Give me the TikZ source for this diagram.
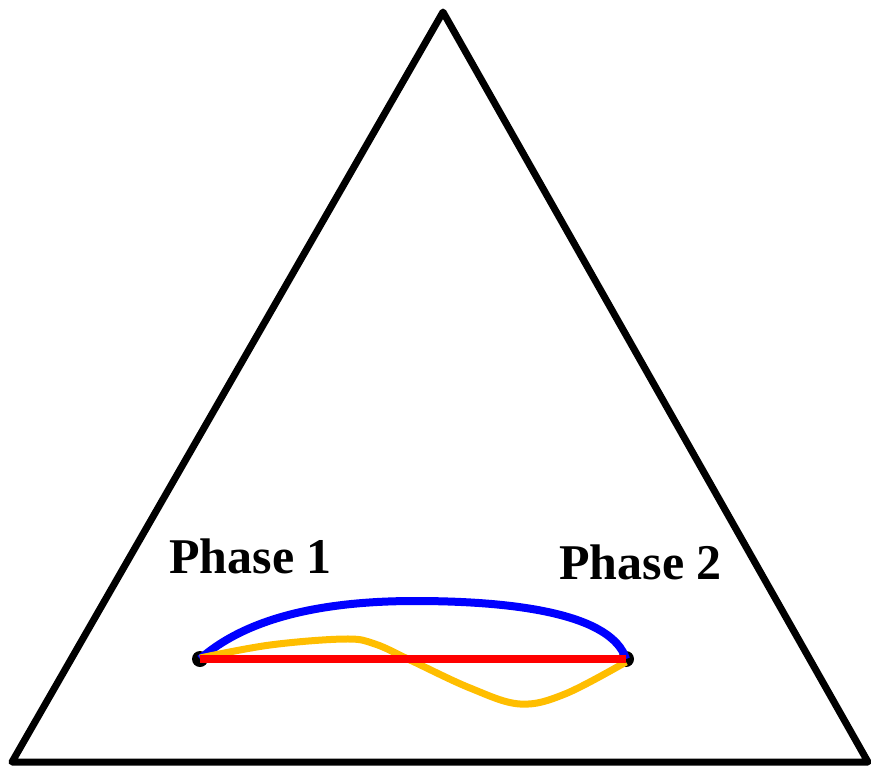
\documentclass[tikz,border=0pt]{standalone}
\usepackage{fontspec}
\setmainfont{Liberation Serif}
\begin{document}
\begin{tikzpicture}[x=1pt,y=-1pt,
  tri/.style={line width=7pt,line join=round,line cap=round},
  lbl/.style={font=\fontsize{50}{52}\selectfont\bfseries,inner sep=0pt,anchor=base west},
  blueline/.style={blue,line width=8pt},
  orangeline/.style={color={rgb,255:red,255;green,190;blue,0},line width=7pt},
  redline/.style={red,line width=8pt},
  dot/.style={circle,fill=black,inner sep=0pt,minimum size=16pt}]
\useasboundingbox (0,0) rectangle (871,766);
\coordinate (A) at (443,12);
\coordinate (B) at (12,762);
\coordinate (C) at (868,762);
\draw[tri] (A) -- (B) -- (C) -- cycle;
\node[dot] (P) at (200,659) {};
\node[dot] (Q) at (626,659) {};
\node[lbl] (L1) at (169,573) {Phase 1};
\node[lbl] (L2) at (559,579) {Phase 2};
\draw[blueline] (P.center) .. controls (250,615) and (330,601) .. (415,601)
  .. controls (520,601) and (612,615) .. (Q.center);
\draw[orangeline] plot[smooth,tension=0.6] coordinates {(200,658) (270,645) (345,639) (375,644) (410,660) (470,688) (520,704) (565,694) (626,662)};
\draw[redline] (P.center) -- (Q.center);
\end{tikzpicture}
\end{document}
